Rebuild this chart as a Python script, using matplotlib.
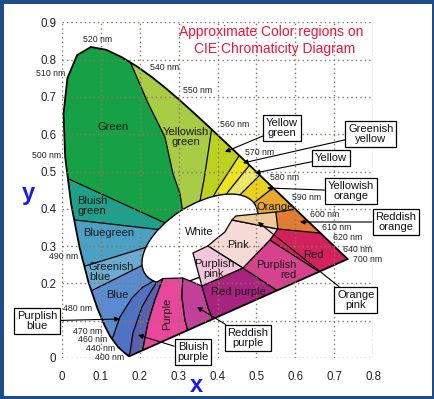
import numpy as np
import matplotlib.pyplot as plt
from matplotlib.patches import Polygon, Ellipse, Rectangle

plt.rcParams["font.family"] = ["Liberation Sans", "DejaVu Sans"]

# CIE 1931 spectral locus
locus_nm = [400, 420, 440, 450, 460, 470, 475, 480, 485, 490, 495, 500, 505,
            510, 515, 520, 525, 530, 535, 540, 545, 550, 555, 560, 565, 570,
            575, 580, 585, 590, 595, 600, 605, 610, 620, 630, 640, 650, 660,
            680, 700]
locus_x = [0.1733, 0.1714, 0.1644, 0.1566, 0.1440, 0.1241, 0.1096, 0.0913,
           0.0687, 0.0454, 0.0235, 0.0082, 0.0039, 0.0139, 0.0389, 0.0743,
           0.1142, 0.1547, 0.1929, 0.2296, 0.2658, 0.3016, 0.3373, 0.3731,
           0.4087, 0.4441, 0.4788, 0.5125, 0.5448, 0.5752, 0.6029, 0.6270,
           0.6482, 0.6658, 0.6915, 0.7079, 0.7190, 0.7260, 0.7300, 0.7334,
           0.7347]
locus_y = [0.0048, 0.0051, 0.0109, 0.0177, 0.0297, 0.0578, 0.0868, 0.1327,
           0.2007, 0.2950, 0.4127, 0.5384, 0.6548, 0.7502, 0.8120, 0.8338,
           0.8262, 0.8059, 0.7816, 0.7543, 0.7243, 0.6923, 0.6589, 0.6245,
           0.5896, 0.5547, 0.5202, 0.4866, 0.4544, 0.4242, 0.3965, 0.3725,
           0.3514, 0.3340, 0.3083, 0.2920, 0.2809, 0.2740, 0.2700, 0.2666,
           0.2653]

# region boundaries, each listed from outside the locus inwards
bnd_bg_g = [(-0.02, 0.49), (0.013, 0.482), (0.2596, 0.3646), (0.289, 0.350)]
bnd_bgn_bg = [(0.0, 0.374), (0.0334, 0.370), (0.2596, 0.3432), (0.29, 0.3396)]
bnd_bg_gb = [(0.03, 0.238), (0.0514, 0.244), (0.2185, 0.2976), (0.25, 0.308)]
bnd_gb_b = [(0.062, 0.176), (0.0746, 0.1796), (0.2082, 0.2493), (0.2262, 0.2574)]
bnd_b_pb = [(0.118, 0.05), (0.131, 0.0563), (0.149, 0.110), (0.18, 0.161),
            (0.208, 0.190), (0.231, 0.204), (0.2519, 0.2306)]
bnd_pb_bp = [(0.166, -0.005), (0.1748, 0.0134), (0.1825, 0.067), (0.2057, 0.1367),
             (0.2262, 0.1743), (0.2442, 0.2038)]
bnd_g_yg = [(0.168, 0.812), (0.221, 0.684), (0.265, 0.592), (0.285, 0.496),
            (0.303, 0.442), (0.311, 0.391), (0.32, 0.36)]
bnd_yg_ygn = [(0.3856, 0.619), (0.375, 0.544), (0.365, 0.477), (0.355, 0.421), (0.352, 0.38)]
bnd_ygn_gy = [(0.4653, 0.5576), (0.3985, 0.4504), (0.383, 0.4209)]
bnd_gy_y = [(0.491, 0.5282), (0.4267, 0.445), (0.419, 0.4316)]
bnd_y_yo = [(0.5193, 0.5013), (0.4447, 0.4236)]
bnd_yo_o = [(0.5553, 0.4665), (0.4704, 0.3968)]
bnd_o_ro = [(0.6221, 0.4021), (0.5501, 0.3914)]
bnd_ro_r = [(0.689, 0.3325), (0.5553, 0.3458)]
# boundaries starting below the purple line
bnd_bp_p = [(0.204, -0.005), (0.2082, 0.0241), (0.2211, 0.0938), (0.2391, 0.1555), (0.2596, 0.213)]
bnd_p_rp = [(0.328, 0.04), (0.3239, 0.0724), (0.3162, 0.1019), (0.3085, 0.1635), (0.311, 0.2145)]
bnd_rp_rdp = [(0.392, 0.085), (0.3882, 0.1019), (0.3753, 0.1367), (0.36, 0.193)]
bnd_rdp_pr = [(0.5723, 0.1681), (0.4653, 0.2413)]
bnd_pr_r = [(0.6825, 0.2177), (0.5347, 0.3164)]

orange_corner = [(0.4473, 0.3807)]
pink_pts = [(0.3753, 0.3003), (0.3933, 0.3164), (0.419, 0.3378), (0.437, 0.37),
            (0.5553, 0.3458), (0.5347, 0.3164), (0.4653, 0.2413)]
purplish_pink_pts = [(0.3368, 0.2815), (0.3753, 0.3003), (0.4653, 0.2413), (0.36, 0.193)]
orange_pink_pts = [(0.437, 0.37), (0.4473, 0.3807), (0.5501, 0.3914), (0.5553, 0.3458)]

# white region (centre, full width, full height, angle)
white_centre = (0.3548, 0.319)
white_size = (0.3386, 0.1802, 34)

wl_labels = ["520 nm", "510 nm", "500 nm", "540 nm", "550 nm", "560 nm", "570 nm",
             "580 nm", "590 nm", "600 nm", "610 nm", "620 nm", "640 nm", "700 nm",
             "490 nm", "480 nm", "470 nm", "460 nm", "440 nm", "400 nm"]
wl_label_xy = [(0.0925, 0.855), (-0.028, 0.764), (-0.039, 0.544), (0.265, 0.780),
               (0.350, 0.716), (0.445, 0.625), (0.509, 0.550), (0.573, 0.485),
               (0.630, 0.429), (0.676, 0.386), (0.707, 0.349), (0.735, 0.324),
               (0.761, 0.290), (0.787, 0.265), (0.004, 0.272), (0.041, 0.134),
               (0.067, 0.072), (0.080, 0.049), (0.098, 0.026), (0.123, 0.0)]

region_names = ["Green", "Yellowish\ngreen", "Bluish\ngreen", "Bluegreen", "Greenish\nblue",
                "Blue", "White", "Pink", "Purplish\npink", "Purplish\nred", "Red purple",
                "Red", "Orange"]
region_xy = [(0.131, 0.619), (0.319, 0.5925), (0.0386, 0.4075), (0.121, 0.335),
             (0.0694, 0.2306), (0.1414, 0.1689), (0.352, 0.338), (0.4524, 0.303),
             (0.3907, 0.2386), (0.6041, 0.2359), (0.455, 0.1769), (0.6478, 0.2761),
             (0.5476, 0.4048)]
region_ha = ["center", "center", "left", "center", "left", "center", "center", "center",
             "center", "right", "center", "center", "center"]

callout_names = ["Yellow\ngreen", "Greenish\nyellow", "Yellow", "Yellowish\norange",
                 "Reddish\norange", "Orange\npink", "Reddish\npurple", "Bluish\npurple",
                 "Purplish\nblue"]
callout_text_xy = [(0.5656, 0.6166), (0.7943, 0.6005), (0.6915, 0.5362), (0.7429, 0.4477),
                   (0.8586, 0.3646), (0.7558, 0.1555), (0.4781, 0.0536), (0.3368, 0.0161),
                   (-0.0643, 0.0992)]
callout_tip_xy = [(0.419, 0.5523), (0.4653, 0.5228), (0.4961, 0.496), (0.527, 0.4558),
                  (0.6118, 0.3646), (0.5039, 0.3646), (0.347, 0.1367), (0.1954, 0.0617),
                  (0.1491, 0.1046)]

x_ticks = [0.0, 0.1, 0.2, 0.3, 0.4, 0.5, 0.6, 0.7, 0.8]
x_tick_labels = ["0", "0.1", "0.2", "0.3", "0.4", "0.5", "0.6", "0.7", "0.8"]
y_ticks = [0.0, 0.1, 0.2, 0.3, 0.4, 0.5, 0.6, 0.7, 0.8, 0.9]
# the 0.1 label sits under the "Purplish blue" box in the original
y_tick_labels = ["0", "", "0.2", "0.3", "0.4", "0.5", "0.6", "0.7", "0.8", "0.9"]


def expand(pt, scale=2.0, centre=(0.33, 0.33)):
    return (centre[0] + scale * (pt[0] - centre[0]), centre[1] + scale * (pt[1] - centre[1]))


def outer_band(bnd_a, bnd_b, nm_a, nm_b, inner=()):
    arc = [expand((x, y)) for nm, x, y in zip(locus_nm, locus_x, locus_y) if nm_a < nm < nm_b]
    return (list(bnd_a) + list(inner) + list(bnd_b)[::-1]
            + [expand(bnd_b[0])] + arc[::-1] + [expand(bnd_a[0])])


def band(bnd_a, bnd_b):
    return list(bnd_a) + list(bnd_b)[::-1]


def plot_kelly_chart(output_filename="out.png"):
    fig = plt.figure(figsize=(4.35, 3.99), dpi=100)
    fig.patch.set_facecolor("#1f4c8a")
    fig.add_artist(Rectangle((4 / 435, 3 / 399), 428 / 435, 392 / 399,
                             transform=fig.transFigure, fc="white", ec="none", zorder=-5))

    ax = fig.add_axes([62 / 435, 41 / 399, 311 / 435, 335.7 / 399])
    ax.set_facecolor("none")
    ax.set_xlim(0, 0.8)
    ax.set_ylim(0, 0.9)

    horseshoe = Polygon(list(zip(locus_x, locus_y)), closed=True, fc="none",
                        ec="black", lw=1.3, zorder=1.6)
    ax.add_patch(horseshoe)

    outer_regions = [
        (outer_band(bnd_bg_g, bnd_g_yg, 498, 531), "#17a146"),
        (outer_band(bnd_bgn_bg, bnd_bg_g, 493, 498), "#1ea08a"),
        (outer_band(bnd_bg_gb, bnd_bgn_bg, 488, 493), "#4ba0c3"),
        (outer_band(bnd_gb_b, bnd_bg_gb, 484, 488), "#6aabcf"),
        (outer_band(bnd_b_pb, bnd_gb_b, 470, 484), "#5b8bcf"),
        (outer_band(bnd_pb_bp, bnd_b_pb, 430, 470), "#4f72c2"),
        (outer_band(bnd_g_yg, bnd_yg_ygn, 531, 561), "#a8cc46"),
        (outer_band(bnd_yg_ygn, bnd_ygn_gy, 561, 571.5), "#bdd220"),
        (outer_band(bnd_ygn_gy, bnd_gy_y, 571.5, 575.5), "#ebe521"),
        (outer_band(bnd_gy_y, bnd_y_yo, 575.5, 579.5), "#ece66c"),
        (outer_band(bnd_y_yo, bnd_yo_o, 579.5, 585), "#e6d21c"),
        (outer_band(bnd_yo_o, bnd_o_ro, 585, 597, inner=orange_corner), "#e9a72e"),
        (outer_band(bnd_o_ro, bnd_ro_r, 597, 615), "#e37b33"),
    ]
    for pts, color in outer_regions:
        p = Polygon(pts, closed=True, fc=color, ec="none", zorder=1.0)
        ax.add_patch(p)
        p.set_clip_path(horseshoe)

    for bnd in [bnd_bg_g, bnd_bgn_bg, bnd_bg_gb, bnd_gb_b, bnd_b_pb, bnd_g_yg,
                bnd_yg_ygn, bnd_ygn_gy, bnd_gy_y, bnd_y_yo, bnd_yo_o, bnd_o_ro]:
        xs, ys = zip(*bnd)
        line, = ax.plot(xs, ys, color="black", lw=0.9, zorder=1.1)
        line.set_clip_path(horseshoe)

    ax.add_patch(Ellipse(white_centre, white_size[0], white_size[1], angle=white_size[2],
                         fc="white", ec="black", lw=1.0, zorder=1.2))

    inner_regions = [
        (band(bnd_pb_bp, bnd_bp_p), "#5a5fae"),
        (band(bnd_bp_p, bnd_p_rp), "#e9479c"),
        (band(bnd_p_rp, bnd_rp_rdp), "#c0409a"),
        (band(bnd_rp_rdp, bnd_rdp_pr), "#a8237f"),
        (band(bnd_rdp_pr, bnd_pr_r), "#d6428e"),
        (outer_band(bnd_ro_r, bnd_pr_r, 615, 701), "#d3215e"),
        (pink_pts, "#f6dad6"),
        (purplish_pink_pts, "#f2c6dc"),
        (orange_pink_pts, "#f0cb9a"),
    ]
    for pts, color in inner_regions:
        p = Polygon(pts, closed=True, fc=color, ec="black", lw=0.9, zorder=1.4)
        ax.add_patch(p)
        p.set_clip_path(horseshoe)

    # grid & ticks
    ax.set_xticks(x_ticks)
    ax.set_yticks(y_ticks)
    ax.set_xticklabels(x_tick_labels)
    ax.set_yticklabels(y_tick_labels)
    ax.tick_params(length=0, labelsize=8.3, labelcolor="#222222")
    ax.tick_params(axis="x", pad=9)
    ax.tick_params(axis="y", pad=4)
    ax.set_axisbelow(False)
    ax.grid(True, color="#857963", lw=1.0, linestyle=(0, (1, 2.2)))
    for s in ax.spines.values():
        s.set_visible(False)

    for txt, (x, y) in zip(wl_labels, wl_label_xy):
        ax.text(x, y, txt, fontsize=6.3, color="#222222", ha="center", va="center",
                zorder=3, clip_on=False)

    for txt, (x, y), ha in zip(region_names, region_xy, region_ha):
        ax.text(x, y, txt, fontsize=8, color="#1a1a1a", ha=ha, va="center",
                linespacing=1.05, zorder=3)
    ax.text(0.2699, 0.118, "Purple", fontsize=8, color="#1a1a1a", rotation=90,
            ha="center", va="center", zorder=3)

    for txt, xy_text, xy_tip in zip(callout_names, callout_text_xy, callout_tip_xy):
        ax.annotate(txt, xy=xy_tip, xytext=xy_text, fontsize=8, color="#111111",
                    ha="center", va="center", linespacing=1.05, zorder=4,
                    annotation_clip=False,
                    bbox=dict(boxstyle="square,pad=0.25", fc="white", ec="black", lw=0.9),
                    arrowprops=dict(arrowstyle="-|>", color="black", lw=0.8,
                                    mutation_scale=7, shrinkA=0, shrinkB=0))

    fig.text(271 / 435, 1 - 32 / 399, "Approximate Color regions on", fontsize=10,
             color="#f0143c", ha="center", va="center")
    fig.text(275 / 435, 1 - 49 / 399, "CIE Chromaticity Diagram", fontsize=10,
             color="#f0143c", ha="center", va="center")
    fig.text(196 / 435, 1 - 392 / 399, "x", fontsize=17, fontweight="bold",
             color="#1a1aee", ha="center", va="baseline")
    fig.text(28 / 435, 1 - 200 / 399, "y", fontsize=17, fontweight="bold",
             color="#1a1aee", ha="center", va="baseline")

    if output_filename:
        fig.savefig(output_filename, dpi=100, facecolor=fig.get_facecolor())


plot_kelly_chart("out.png")
